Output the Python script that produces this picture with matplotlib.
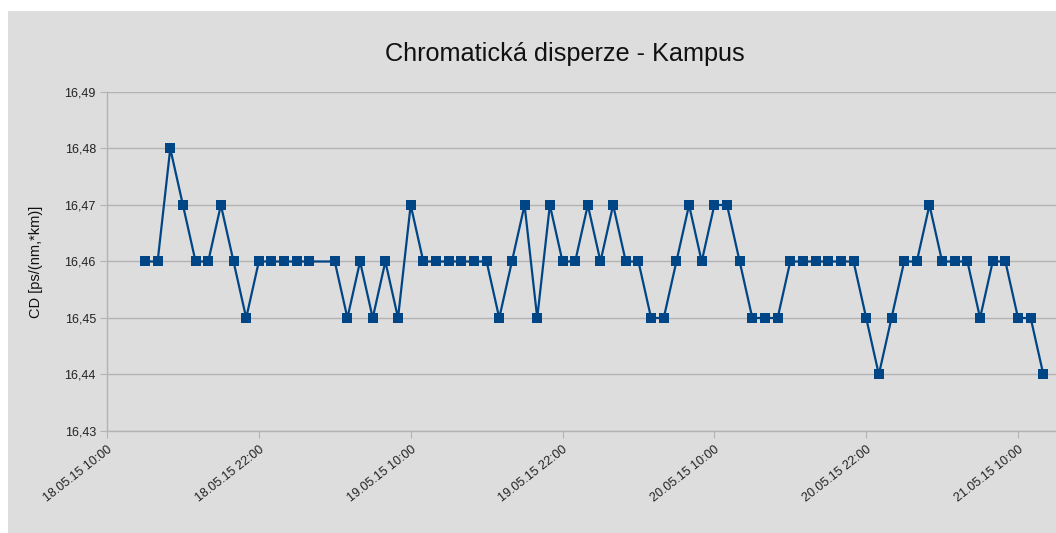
import matplotlib
matplotlib.use("Agg")
import matplotlib.pyplot as plt
from matplotlib.patches import Rectangle
from matplotlib.ticker import FixedLocator, FuncFormatter
import pandas as pd

# ---- data ----
start_time = "2015-05-18 13:00"
end_time = "2015-05-21 12:00"
missing_times = ["2015-05-19 03:00"]
cd_values = [
    16.46, 16.46, 16.48, 16.47, 16.46, 16.46, 16.47, 16.46, 16.45, 16.46,
    16.46, 16.46, 16.46, 16.46,
    16.46, 16.45, 16.46, 16.45, 16.46, 16.45, 16.47, 16.46, 16.46, 16.46,
    16.46, 16.46, 16.46, 16.45, 16.46, 16.47, 16.45, 16.47, 16.46, 16.46,
    16.47, 16.46, 16.47, 16.46, 16.46, 16.45, 16.45, 16.46, 16.47, 16.46,
    16.47, 16.47, 16.46, 16.45, 16.45, 16.45, 16.46, 16.46, 16.46, 16.46,
    16.46, 16.46, 16.45, 16.44, 16.45, 16.46, 16.46, 16.47, 16.46, 16.46,
    16.46, 16.45, 16.46, 16.46, 16.45, 16.45, 16.44,
]
y_ticks = [16.43, 16.44, 16.45, 16.46, 16.47, 16.48, 16.49]
x_tick_labels = ["2015-05-18 10:00", "2015-05-18 22:00", "2015-05-19 10:00",
                 "2015-05-19 22:00", "2015-05-20 10:00", "2015-05-20 22:00",
                 "2015-05-21 10:00"]
x_range = ["2015-05-18 10:00", "2015-05-21 13:00"]

times = pd.date_range(start_time, end_time, freq="h")
times = times[~times.isin(pd.to_datetime(missing_times))]

plt.rcParams['font.family'] = ['Liberation Sans', 'DejaVu Sans']

W, H = 1056, 533
fig = plt.figure(figsize=(W / 100, H / 100), dpi=100, facecolor="white")
bg = "#dddddd"
fig.add_artist(Rectangle((8 / W, 0), 1 - 8 / W, (H - 11) / H,
                         transform=fig.transFigure, facecolor=bg,
                         edgecolor="none", zorder=-10))

ax = fig.add_axes([107 / W, 1 - 431 / H, 1 - 107 / W, (431 - 92) / H])
ax.set_facecolor(bg)
ax.set_zorder(1)

ax.plot(times, cd_values, color="#004586", linewidth=1.6, marker="s",
        markersize=7.5, markeredgewidth=0, zorder=3, clip_on=False)

ax.set_ylim(16.43, 16.49)
ax.yaxis.set_major_locator(FixedLocator(y_ticks))
ax.yaxis.set_major_formatter(FuncFormatter(lambda v, p: f"{v:.2f}".replace(".", ",")))
ax.grid(axis="y", color="#b3b3b3", linewidth=1.0)
ax.set_axisbelow(True)

xt = pd.to_datetime(x_tick_labels)
ax.set_xlim(pd.to_datetime(x_range[0]), pd.to_datetime(x_range[1]))
ax.set_xticks(xt)
ax.set_xticklabels([t.strftime("%d.%m.%y %H:%M") for t in xt],
                   rotation=38, ha="right", va="top", rotation_mode="anchor",
                   fontsize=9, color="#222222")

for s in ["top", "right"]:
    ax.spines[s].set_visible(False)
for s in ["left", "bottom"]:
    ax.spines[s].set_color("#b3b3b3")
    ax.spines[s].set_linewidth(1.0)

ax.tick_params(axis="y", length=5, color="#b3b3b3", labelsize=9, labelcolor="#222222", pad=3)
ax.tick_params(axis="x", length=5, color="#b3b3b3", pad=4)

ax.set_ylabel("CD [ps/(nm,*km)]", fontsize=10.5, color="#111111")
ax.yaxis.set_label_coords(-0.067, 0.5)

fig.text(565 / W, 1 - 54 / H, "Chromatická disperze - Kampus", ha="center",
         va="center", fontsize=18.2, color="#111111")

fig.savefig("out.png", dpi=100, facecolor="white")
